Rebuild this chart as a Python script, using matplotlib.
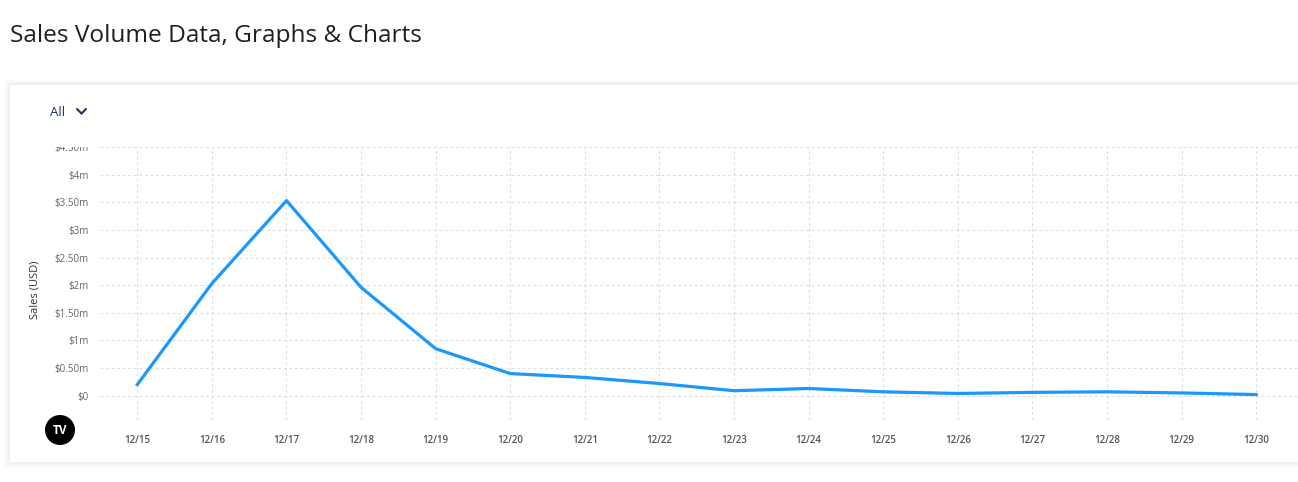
import matplotlib
matplotlib.use("Agg")
import matplotlib.pyplot as plt
from matplotlib.patches import FancyBboxPatch, Ellipse, Rectangle
from matplotlib.lines import Line2D
from matplotlib.ticker import FuncFormatter

plt.rcParams['font.family'] = ['Open Sans', 'DejaVu Sans']

dates = ["12/15", "12/16", "12/17", "12/18", "12/19", "12/20", "12/21", "12/22",
         "12/23", "12/24", "12/25", "12/26", "12/27", "12/28", "12/29", "12/30"]
sales_musd = [0.20, 2.03, 3.53, 1.96, 0.85, 0.40, 0.33, 0.22,
              0.09, 0.13, 0.07, 0.04, 0.06, 0.07, 0.05, 0.02]
y_ticks = [0, 0.5, 1, 1.5, 2, 2.5, 3, 3.5, 4, 4.5]
title = "Sales Volume Data, Graphs & Charts"
y_label = "Sales (USD)"

W, H = 1298, 482
fig = plt.figure(figsize=(W / 100, H / 100), dpi=100)
fig.patch.set_facecolor("white")

def px(x, y):
    return x / W, 1 - y / H

# card with soft shadow
for d, a in [(6, 0.006), (5, 0.008), (4, 0.01), (3, 0.012), (2, 0.014), (1, 0.016)]:
    sh = FancyBboxPatch(px(10 - d, 462 + d), (1320 + 2 * d) / W, (462 - 85 + 2 * d) / H,
                        boxstyle="square,pad=0", transform=fig.transFigure,
                        facecolor="black", edgecolor="none", alpha=a, zorder=0)
    fig.patches.append(sh)
card = FancyBboxPatch(px(10, 462), 1320 / W, (462 - 85) / H,
                      boxstyle="square,pad=0", transform=fig.transFigure,
                      facecolor="white", edgecolor="none", zorder=1)
fig.patches.append(card)

fig.text(*px(10, 36), title, fontsize=17.6, fontweight=500, color="#1f1f1f",
         va="center", ha="left")

# "All" dropdown
fig.text(*px(50, 112), "All", fontsize=9.5, color="#1c3566", va="center", ha="left", zorder=5)
fig.lines.append(Line2D([px(77, 109)[0], px(81.5, 113.5)[0], px(86, 109)[0]],
                        [px(77, 109)[1], px(81.5, 113.5)[1], px(86, 109)[1]],
                        transform=fig.transFigure, color="#1c3566", lw=1.5, zorder=5,
                        solid_capstyle="round", solid_joinstyle="miter"))

left, right = 100 / W, 1.0
bottom, top = 1 - 420 / H, 1 - 147 / H
ax = fig.add_axes([left, bottom, right - left, top - bottom], zorder=3)
ax.patch.set_alpha(0)

x = list(range(len(dates)))
ax.plot(x, sales_musd, color="#1a98fb", lw=2.3, solid_joinstyle="round", zorder=4,
        clip_on=False)

ax.set_xlim(-0.5, 15.56)
ax.set_ylim(-0.44, 4.5)
ax.set_xticks(x)
ax.set_xticklabels(dates)

def fmt(v, pos):
    if abs(v) < 1e-9:
        return "$0"
    if abs(v - round(v)) < 1e-9:
        return f"${int(round(v))}m"
    return f"${v:.2f}m"

ax.set_yticks(y_ticks)
ax.yaxis.set_major_formatter(FuncFormatter(fmt))

for s in ax.spines.values():
    s.set_visible(False)
ax.tick_params(axis="both", length=0)
ax.tick_params(axis="y", pad=8, labelsize=7, labelcolor="#666666")
ax.tick_params(axis="x", pad=11, labelsize=7, labelcolor="#555555")
for t in ax.get_xticklabels():
    t.set_fontweight("semibold")

ax.grid(True, color="#dddddd", lw=0.8, linestyle=(0, (2.5, 2.5)))
ax.set_axisbelow(True)

# clip the top tick label like the reference (half hidden)
clip_rect = Rectangle(px(0, 420), 100 / W, (420 - 147) / H, transform=fig.transFigure,
                      facecolor="none", edgecolor="none")
fig.patches.append(clip_rect)
fig.canvas.draw()
for t in ax.get_yticklabels():
    t.set_clip_path(clip_rect)

fig.text(*px(35, 290), y_label, rotation=90, fontsize=8, color="#333333",
         va="center", ha="center", zorder=5)

# logo
logo = Ellipse(px(60, 430), 30 / W, 30 / H, transform=fig.transFigure, facecolor="black",
               edgecolor="none", zorder=5)
fig.patches.append(logo)
fig.text(*px(60, 430), "TV", fontsize=8.5, fontweight="bold", color="white",
         ha="center", va="center", zorder=6)

fig.savefig("out.png", dpi=100)
